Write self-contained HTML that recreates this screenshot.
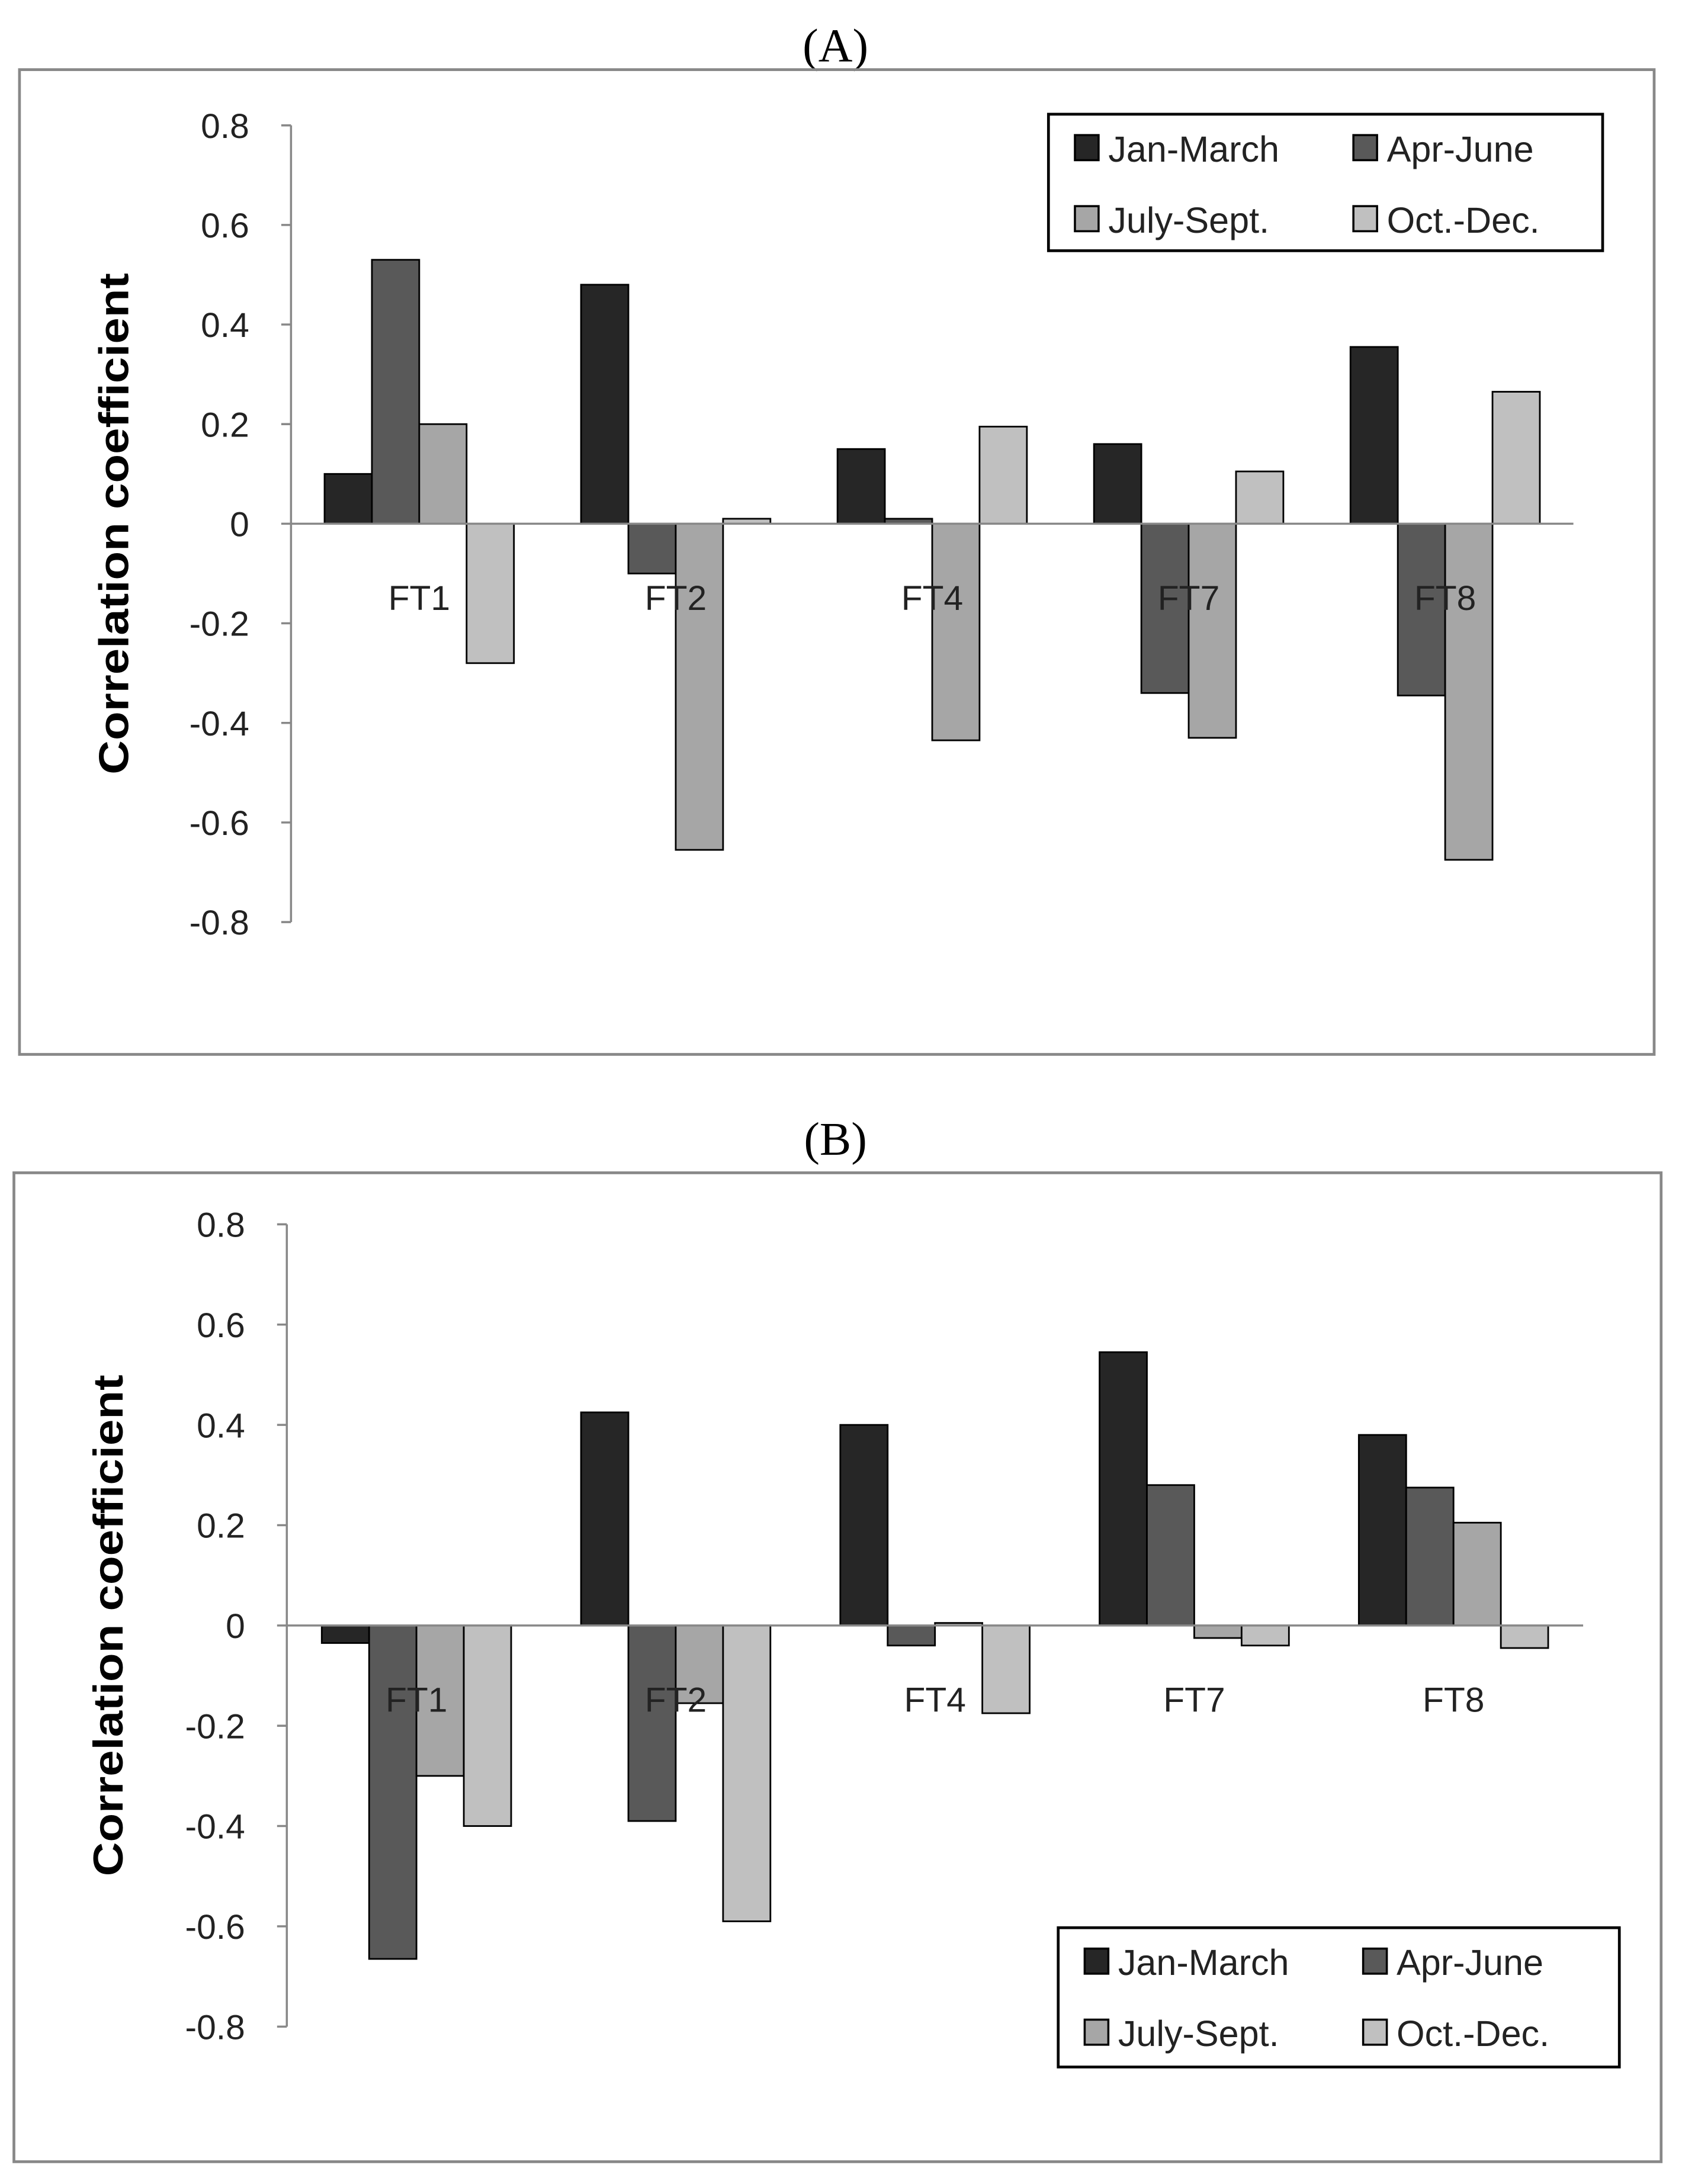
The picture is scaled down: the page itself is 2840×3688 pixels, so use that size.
<!DOCTYPE html>
<html><head><meta charset="utf-8"><style>
html,body{margin:0;padding:0;background:#fff}
svg{display:block}
text{font-family:"Liberation Sans",sans-serif}
</style></head><body>
<svg id="fig" width="2840" height="3688" viewBox="0 0 1208 1568" preserveAspectRatio="none" xmlns="http://www.w3.org/2000/svg"></svg>
<script>
const categories = ["FT1","FT2","FT4","FT7","FT8"];
const seriesNames = ["Jan-March","Apr-June","July-Sept.","Oct.-Dec."];
const colors = ["#262626","#595959","#a6a6a6","#c0c0c0"];
const yTicks = [0.8,0.6,0.4,0.2,0,-0.2,-0.4,-0.6,-0.8];
const yTickLabels = ["0.8","0.6","0.4","0.2","0","-0.2","-0.4","-0.6","-0.8"];
const aJan = [0.10,0.48,0.15,0.16,0.355];
const aApr = [0.53,-0.10,0.01,-0.34,-0.345];
const aJul = [0.20,-0.655,-0.435,-0.43,-0.675];
const aOct = [-0.28,0.01,0.195,0.105,0.265];
const bJan = [-0.035,0.425,0.40,0.545,0.38];
const bApr = [-0.665,-0.39,-0.04,0.28,0.275];
const bJul = [-0.30,-0.155,0.005,-0.025,0.205];
const bOct = [-0.40,-0.59,-0.175,-0.04,-0.045];

const NS="http://www.w3.org/2000/svg";
const svg=document.getElementById('fig');
function mk(tag,attrs,parent,txt){const e=document.createElementNS(NS,tag);for(const k in attrs)e.setAttribute(k,attrs[k]);if(txt!==undefined)e.textContent=txt;(parent||svg).appendChild(e);return e;}

function chart(cfg,series){
  const g=mk('g',{});
  
  
  const t=mk('text',{x:600,y:cfg.titleY,'text-anchor':'middle','font-size':34,style:'font-family:"Liberation Serif",serif'},g,cfg.title);
  
  
  const fr=mk('rect',{x:cfg.fx0,y:cfg.fy0,width:cfg.fx1-cfg.fx0,height:cfg.fy1-cfg.fy0,fill:'none',stroke:'#888','stroke-width':2},g);
  
  
  const y=v=>cfg.y0+(cfg.yTop-cfg.y0)*(v/0.8);
  const cw=(cfg.axEnd-cfg.ax)/categories.length;
  const bw=34, pad=(cw-4*bw)/2;
  const x=(ci,si)=>cfg.ax+ci*cw+pad+si*bw;
  const ya=mk('line',{x1:cfg.ax,y1:y(0.8),x2:cfg.ax,y2:y(-0.8),stroke:'#888','stroke-width':1.5},g);
  
  
  yTicks.forEach((v,i)=>{
    const tk=mk('line',{x1:cfg.ax-7,y1:y(v),x2:cfg.ax,y2:y(v),stroke:'#888','stroke-width':1.5},g);
    
    
    const tl=mk('text',{x:cfg.ax-30,y:y(v)+9,'text-anchor':'end','font-size':25,fill:'#222'},g,yTickLabels[i]);
    
    
  });
  const yt=mk('text',{x:0,y:0,'text-anchor':'middle','font-size':30,'font-weight':'bold',textLength:360,lengthAdjust:'spacingAndGlyphs',transform:`translate(${cfg.titleX},${y(0)}) rotate(-90)`},g,'Correlation coefficient');
  
  
  series.forEach((vals,si)=>{
    vals.forEach((v,ci)=>{
      const top=Math.min(y(v),y(0)), h=Math.abs(y(v)-y(0));
      const r=mk('rect',{x:x(ci,si),y:top,width:bw,height:h,fill:colors[si],stroke:'#000','stroke-width':1.2},g);
      
      
    });
  });
  const xa=mk('line',{x1:cfg.ax,y1:y(0),x2:cfg.axEnd,y2:y(0),stroke:'#888','stroke-width':1.5},g);
  
  
  categories.forEach((c,ci)=>{
    const cl=mk('text',{x:cfg.ax+ci*cw+cw/2,y:y(0)+62,'text-anchor':'middle','font-size':25,fill:'#222'},g,c);
    
    
  });
  const L=cfg.legend;
  const lg=mk('g',{},g);
  
  
  mk('rect',{x:L.x,y:L.y,width:L.w,height:L.h,fill:'#fff',stroke:'#000','stroke-width':2},lg);
  seriesNames.forEach((n,si)=>{
    const cx=L.x+19+(si%2)*200, cy=L.y+(si<2?24:75);
    const sw=mk('rect',{x:cx,y:cy-9,width:17,height:18,fill:colors[si],stroke:'#000','stroke-width':1.5},lg);
    
    
    const lt=mk('text',{x:cx+24,y:cy+10,'font-size':26,fill:'#222'},lg,n);
    
    
  });
}
chart({id:'chart-a',title:'(A)',titleY:44,fx0:14,fy0:50,fx1:1188,fy1:757,ax:209,axEnd:1130,y0:376,yTop:90,titleX:92,
  legend:{x:753,y:82,w:398,h:98}},[aJan,aApr,aJul,aOct]);
chart({id:'chart-b',title:'(B)',titleY:829,fx0:10,fy0:842,fx1:1193,fy1:1552,ax:206,axEnd:1137,y0:1167,yTop:879,titleX:88,
  legend:{x:760,y:1384,w:403,h:100}},[bJan,bApr,bJul,bOct]);
</script>
</body></html>
